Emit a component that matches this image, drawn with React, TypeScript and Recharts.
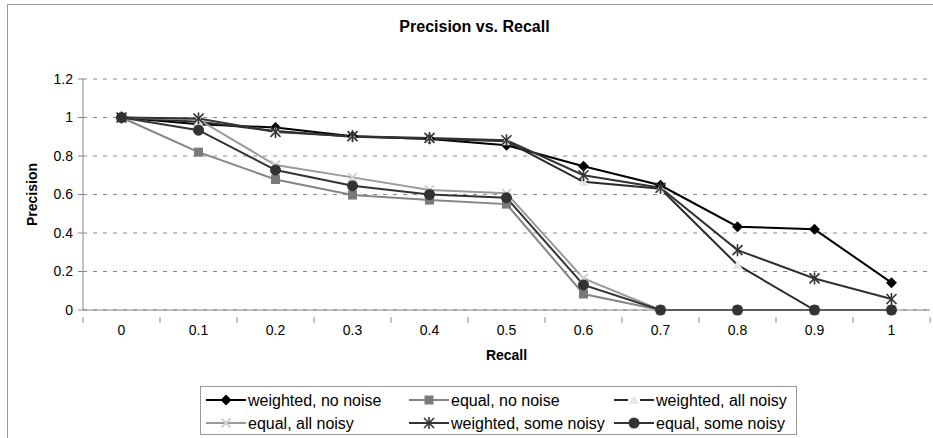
import React from 'react';
import { LineChart, Line, XAxis, YAxis, CartesianGrid, Legend } from 'recharts';

const recall = [0, 0.1, 0.2, 0.3, 0.4, 0.5, 0.6, 0.7, 0.8, 0.9, 1];
const weightedNoNoise = [1, 0.965, 0.948, 0.903, 0.888, 0.856, 0.747, 0.648, 0.433, 0.419, 0.142];
const equalNoNoise = [1, 0.82, 0.678, 0.597, 0.571, 0.55, 0.083, 0, 0, 0, 0];
const weightedAllNoisy = [1, 0.978, 0.93, 0.9, 0.89, 0.876, 0.666, 0.63, 0.234, 0, 0];
const equalAllNoisy = [1, 0.99, 0.753, 0.689, 0.623, 0.606, 0.164, 0, 0, 0, 0];
const weightedSomeNoisy = [1, 0.995, 0.925, 0.903, 0.894, 0.882, 0.7, 0.635, 0.311, 0.164, 0.057];
const equalSomeNoisy = [1, 0.934, 0.727, 0.645, 0.6, 0.583, 0.13, 0, 0, 0, 0];
const yTicks = [0, 0.2, 0.4, 0.6, 0.8, 1, 1.2];
const xLabels = ['0', '0.1', '0.2', '0.3', '0.4', '0.5', '0.6', '0.7', '0.8', '0.9', '1'];

const data = recall.map((r, i) => ({
  recall: r,
  wnn: weightedNoNoise[i],
  enn: equalNoNoise[i],
  wan: weightedAllNoisy[i],
  ean: equalAllNoisy[i],
  wsn: weightedSomeNoisy[i],
  esn: equalSomeNoisy[i],
}));

const halfStep = 0.05;
const boundaries = [...recall.map((r) => r - halfStep), recall[recall.length - 1] + halfStep];
const xTicks = [...boundaries, ...recall].sort((a, b) => a - b);

const FONT = '"Liberation Sans", Arial, sans-serif';
const TICK_FS = 14;
const LEG_FS = 16;

type Shape = 'diamond' | 'square' | 'triangle' | 'x' | 'star' | 'circle';

const marker = (shape: Shape, cx: number, cy: number, color: string, key?: any) => {
  switch (shape) {
    case 'diamond':
      return <polygon key={key} points={`${cx},${cy - 5.5} ${cx + 5.5},${cy} ${cx},${cy + 5.5} ${cx - 5.5},${cy}`} fill={color} />;
    case 'square':
      return <rect key={key} x={cx - 4.5} y={cy - 4.5} width={9} height={9} fill={color} />;
    case 'triangle':
      return <polygon key={key} points={`${cx},${cy - 5} ${cx + 5},${cy + 4} ${cx - 5},${cy + 4}`} fill={color} />;
    case 'x':
      return (
        <g key={key} stroke={color} strokeWidth={2}>
          <line x1={cx - 4.5} y1={cy - 4.5} x2={cx + 4.5} y2={cy + 4.5} />
          <line x1={cx - 4.5} y1={cy + 4.5} x2={cx + 4.5} y2={cy - 4.5} />
        </g>
      );
    case 'star':
      return (
        <g key={key} stroke={color} strokeWidth={1.6}>
          <line x1={cx - 5} y1={cy - 5} x2={cx + 5} y2={cy + 5} />
          <line x1={cx - 5} y1={cy + 5} x2={cx + 5} y2={cy - 5} />
          <line x1={cx} y1={cy - 6} x2={cx} y2={cy + 6} />
        </g>
      );
    case 'circle':
    default:
      return <circle key={key} cx={cx} cy={cy} r={5.5} fill={color} />;
  }
};

const series = [
  { key: 'wnn', name: 'weighted, no noise', line: '#000000', mark: '#000000', shape: 'diamond' as Shape },
  { key: 'enn', name: 'equal, no noise', line: '#858585', mark: '#7a7a7a', shape: 'square' as Shape },
  { key: 'wan', name: 'weighted, all noisy', line: '#2a2a2a', mark: '#e6e6e6', shape: 'triangle' as Shape },
  { key: 'ean', name: 'equal, all noisy', line: '#9a9a9a', mark: '#d0d0d0', shape: 'x' as Shape },
  { key: 'wsn', name: 'weighted, some noisy', line: '#333333', mark: '#333333', shape: 'star' as Shape },
  { key: 'esn', name: 'equal, some noisy', line: '#333333', mark: '#333333', shape: 'circle' as Shape },
];

const legendOrder = ['wnn', 'enn', 'wan', 'ean', 'wsn', 'esn'];

const XTick = (props: any) => {
  const { x, y, payload } = props;
  const v = payload.value;
  const idx = recall.findIndex((r) => Math.abs(r - v) < 1e-6);
  if (idx >= 0) {
    return (
      <text x={x} y={y + 17} textAnchor="middle" fontFamily={FONT} fontSize={TICK_FS} fill="#000">
        {xLabels[idx]}
      </text>
    );
  }
  return <line x1={x} y1={y - 1} x2={x} y2={y + 5} stroke="#888" strokeWidth={1} />;
};

const renderLegend = () => {
  const cols = [205, 408, 613];
  return (
    <div
      style={{
        width: 597,
        height: 49,
        boxSizing: 'border-box',
        border: '1px solid #999',
        position: 'relative',
        fontFamily: FONT,
        background: '#fff',
      }}
    >
      <svg width={595} height={47} style={{ position: 'absolute', left: 0, top: 0 }}>
        {legendOrder.map((k, i) => {
          const s = series.find((q) => q.key === k)!;
          const row = Math.floor(i / 3);
          const col = i % 3;
          const x0 = cols[col] - 200;
          const cy = 13 + row * 23;
          return (
            <g key={k}>
              <line x1={x0} y1={cy} x2={x0 + 40} y2={cy} stroke={s.line} strokeWidth={2} />
              {s.key === 'wan' && <rect x={x0 + 14} y={cy - 6} width={12} height={12} fill="#fff" />}
              {marker(s.shape, x0 + 20, cy, s.mark)}
              <text x={x0 + 42} y={cy + 5.5} fontFamily={FONT} fontSize={LEG_FS} fill="#000">
                {s.name}
              </text>
            </g>
          );
        })}
      </svg>
    </div>
  );
};

export default function App() {
  return (
    <div style={{ position: 'absolute', left: 0, top: 0, width: 933, height: 438, background: '#fff', overflow: 'hidden' }}>
      <div
        style={{
          position: 'absolute',
          left: 7,
          top: 4,
          width: 940,
          height: 450,
          borderLeft: '1px solid #999',
          borderTop: '1px solid #999',
        }}
      />
      <div
        style={{
          position: 'absolute',
          left: 8,
          top: 18,
          width: 933,
          textAlign: 'center',
          fontFamily: FONT,
          fontWeight: 'bold',
          fontSize: 16,
          color: '#000',
        }}
      >
        Precision vs. Recall
      </div>
      <div style={{ position: 'absolute', left: 0, top: 0 }}>
        <LineChart width={933} height={438} data={data} margin={{ top: 79, right: 3, bottom: 0, left: 0 }}>
          <CartesianGrid vertical={false} stroke="#888" strokeDasharray="4 6" />
          <XAxis
            dataKey="recall"
            type="number"
            domain={[-0.05, 1.05]}
            ticks={xTicks}
            interval={0}
            tickLine={false}
            axisLine={{ stroke: '#888' }}
            tick={<XTick />}
            height={79}
            allowDataOverflow
            label={{
              content: (p: any) => {
                const vb = p.viewBox || {};
                return (
                  <text x={vb.x + vb.width / 2} y={vb.y + 50} textAnchor="middle" fontFamily={FONT} fontWeight="bold" fontSize={TICK_FS} fill="#000">
                    Recall
                  </text>
                );
              },
            }}
          />
          <YAxis
            domain={[0, 1.2]}
            ticks={yTicks}
            width={83}
            interval={0}
            tickSize={5}
            tickMargin={5}
            tickFormatter={(v: number) => String(Number(v.toFixed(1)))}
            tick={{ fontFamily: FONT, fontSize: TICK_FS, fill: '#000' }}
            tickLine={{ stroke: '#888' }}
            axisLine={{ stroke: '#888' }}
            label={{
              content: (p: any) => {
                const vb = p.viewBox || {};
                const cx = 37;
                const cy = vb.y + vb.height / 2;
                return (
                  <text x={cx} y={cy} transform={`rotate(-90 ${cx} ${cy})`} textAnchor="middle" fontFamily={FONT} fontWeight="bold" fontSize={TICK_FS} fill="#000">
                    Precision
                  </text>
                );
              },
            }}
          />
          <Legend
            content={renderLegend}
            wrapperStyle={{ position: 'absolute', left: 200, top: 386, width: 597, height: 49 }}
          />
          {series.map((s) => (
            <Line
              key={s.key}
              dataKey={s.key}
              name={s.name}
              stroke={s.line}
              strokeWidth={2}
              isAnimationActive={false}
              dot={(p: any) => marker(s.shape, p.cx, p.cy, s.mark, `${s.key}-${p.index}`)}
              activeDot={false}
            />
          ))}
        </LineChart>
      </div>
    </div>
  );
}
